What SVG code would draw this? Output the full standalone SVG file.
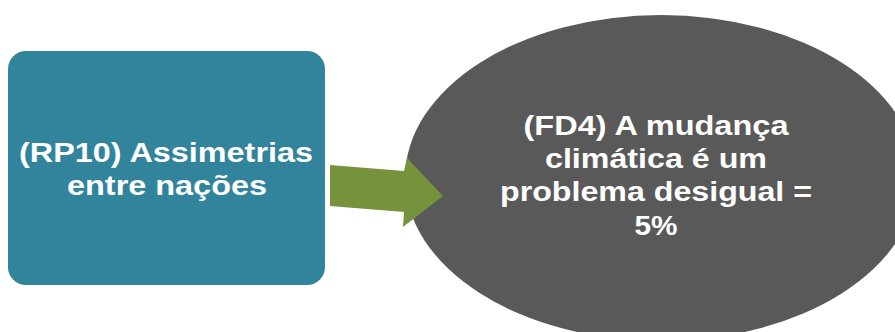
<svg xmlns="http://www.w3.org/2000/svg" width="895" height="332" viewBox="0 0 895 332">
<style>
.t{font-family:"Liberation Sans",Arial,sans-serif;font-weight:bold;font-size:27px;fill:#ffffff;text-anchor:middle}
</style>
<rect width="895" height="332" fill="#ffffff"/>
<g id="node-rp10">
<rect x="8" y="51" width="317" height="234" rx="18" ry="18" fill="#31849b"/>
<text class="t" x="166" y="162" textLength="294" lengthAdjust="spacingAndGlyphs">(RP10) Assimetrias</text>
<text class="t" x="167" y="195" textLength="200" lengthAdjust="spacingAndGlyphs">entre nações</text>
</g>
<g id="node-fd4">
<ellipse cx="661" cy="178" rx="256" ry="163" fill="#595959"/>
<text class="t" x="656" y="135" textLength="265" lengthAdjust="spacingAndGlyphs">(FD4) A mudança</text>
<text class="t" x="656" y="168" textLength="222" lengthAdjust="spacingAndGlyphs">climática é um</text>
<text class="t" x="656" y="201" textLength="312" lengthAdjust="spacingAndGlyphs">problema desigual =</text>
<text class="t" x="656" y="235" textLength="43" lengthAdjust="spacingAndGlyphs">5%</text>
</g>
<g id="connectors">
<polygon points="330,165 404,171 407,158 443,196 403,227 404,212 330,206" fill="#76923c"/>
</g>
</svg>
